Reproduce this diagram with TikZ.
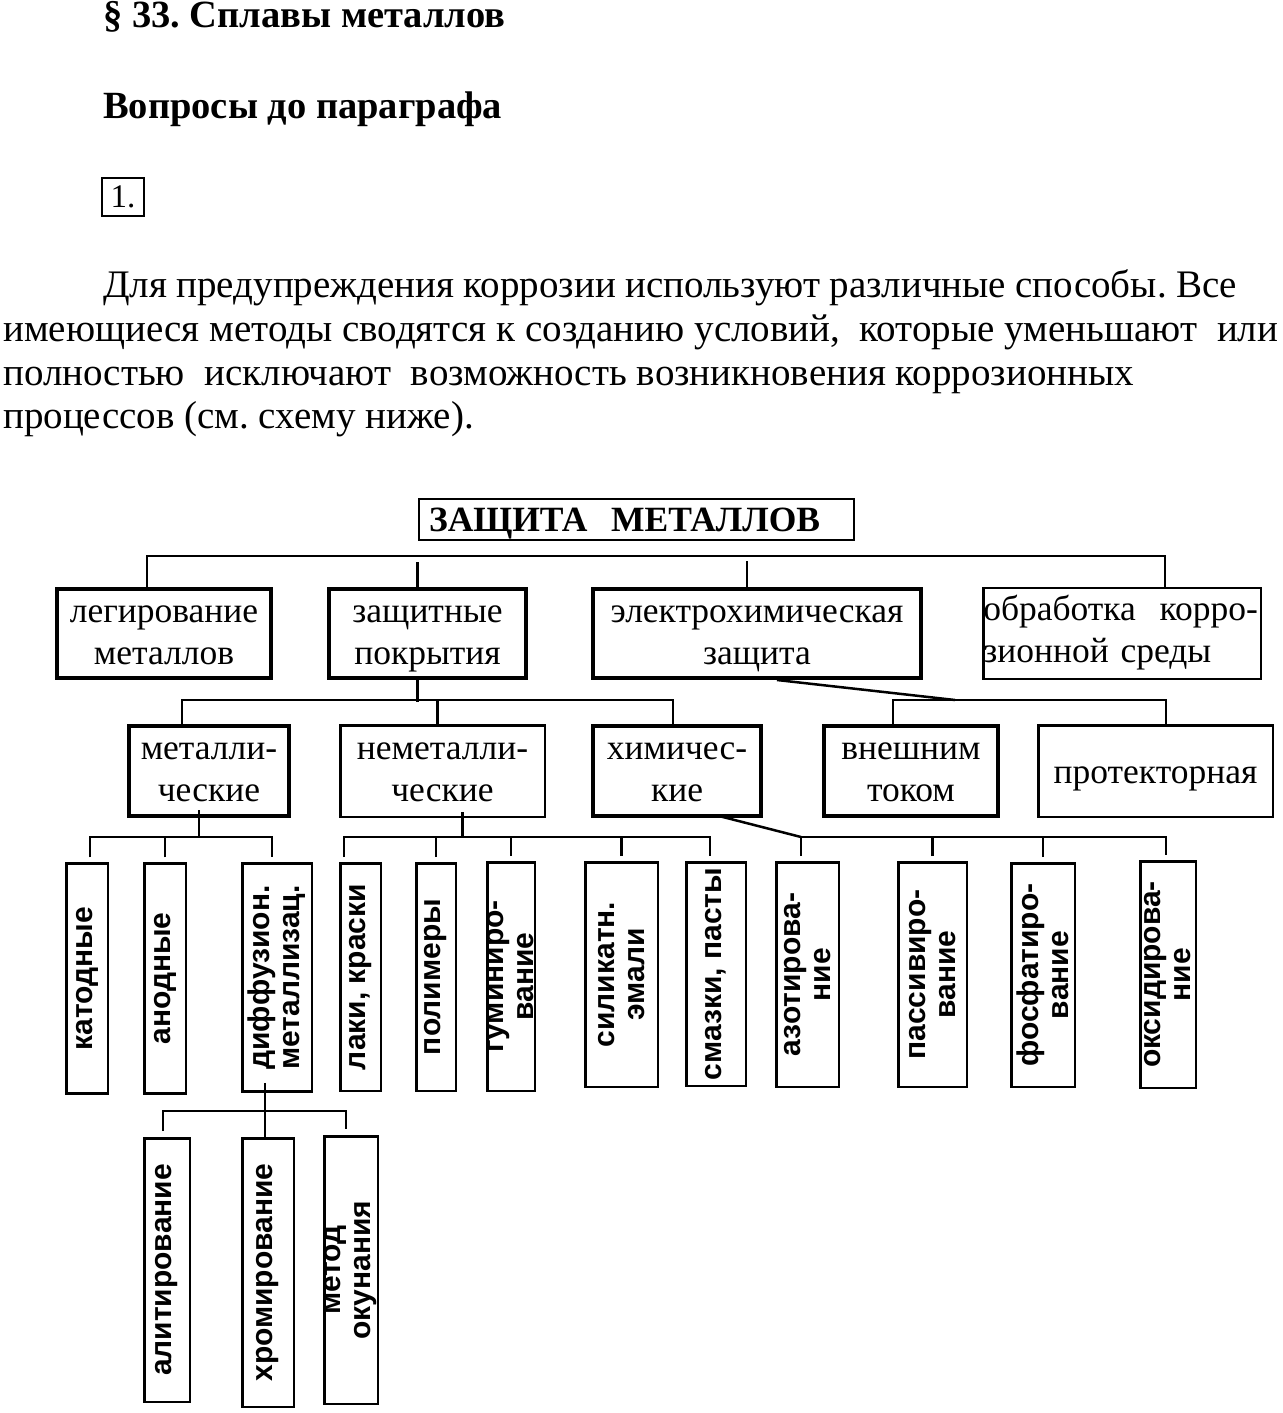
\documentclass[tikz,border=0pt]{standalone}
\usepackage{fontspec}
\setmainfont{Liberation Serif}
\newfontfamily\armfont{Liberation Sans}
\frenchspacing
\newcommand{\headfnt}{\fontsize{38.5}{44}\selectfont\bfseries}
\newcommand{\bodyfnt}{\fontsize{39}{44}\selectfont}
\newcommand{\boxfnt}{\fontsize{35.5}{42}\selectfont}
\newcommand{\vfnt}{\armfont\bfseries\fontsize{30}{30}\selectfont}

\begin{document}
\begin{tikzpicture}[x=1pt,y=-1pt,
    link/.style={line width=2.5pt},
    cell/.style={draw,line width=2.5pt,inner sep=0pt,align=center,font=\boxfnt,
      text height=66pt,text depth=5pt},
    oneline/.style={text height=28pt,text depth=4pt},
    bcell/.style={cell,line width=4pt},
    vcell/.style={draw,line width=2.5pt,inner sep=0pt,align=center,rotate=90,font=\vfnt},
    txt/.style={inner sep=0pt,anchor=base west}]
\useasboundingbox (0,0) rectangle (1282,1413);

% heading and text
\node[txt,font=\headfnt] (sec) at (103,28) {§ 33. Сплавы металлов};
\node[txt,font=\headfnt] (vop) at (103,118) {Вопросы до параграфа};
\node[draw,line width=1.5pt,minimum width=42,minimum height=38,inner sep=0pt,font=\fontsize{33}{33}\selectfont] (num) at (123,197) {1.};
\node[txt,font=\bodyfnt] (l1) at (103,297) {\makebox[1134pt][s]{Для предупреждения коррозии используют различные способы. Все}};
\node[txt,font=\bodyfnt] (l2) at (3,341) {\makebox[1275pt][s]{имеющиеся методы сводятся к созданию условий,\ \ которые уменьшают\ \ или}};
\node[txt,font=\bodyfnt] (l3) at (3,385) {полностью\ \ исключают\ \ возможность возникновения коррозионных};
\node[txt,font=\bodyfnt] (l4) at (3,428) {процессов (см. схему ниже).};

% scheme
\node[cell,oneline,font=\boxfnt\bfseries,text width=415pt,inner xsep=10pt,minimum height=41,align=left] (top) at (636.5,519.5) {ЗАЩИТА~~МЕТАЛЛОВ};

\node[bcell,minimum width=214,minimum height=89] (leg) at (164,633.5) {легирование\\металлов};
\node[bcell,minimum width=197,minimum height=89] (zp) at (427.5,633.5) {защитные\\покрытия};
\node[bcell,minimum width=328,minimum height=89] (eh) at (757,633.5) {электрохимическая\\защита};
\node[cell,text width=277.5pt,align=left,minimum height=91,text height=23pt,text depth=50pt] (obr) at (1122,633.5) {обработка~~корро-\\зионной среды};

\node[bcell,minimum width=160,minimum height=90] (met) at (209,771) {металли-\\ческие};
\node[cell,minimum width=204.5,minimum height=91.5] (nm) at (442.5,771) {неметалли-\\ческие};
\node[bcell,minimum width=168,minimum height=90] (him) at (677,771) {химичес-\\кие};
\node[bcell,minimum width=174,minimum height=90] (vt) at (911,771) {внешним\\током};
\node[cell,oneline,minimum width=234.5,minimum height=91.5] (pr) at (1155.5,771) {протекторная};

\node[vcell,minimum width=230,minimum height=41.5] (kat) at (87,978.5) {катодные};
\node[vcell,minimum width=230,minimum height=41.5] (ano) at (165,978.5) {анодные};
\node[vcell,minimum width=228,minimum height=69.5] (dif) at (277,977.5) {диффузион.\\металлизац.};
\node[vcell,minimum width=227.5,minimum height=40.5] (lak) at (360.5,977) {лаки, краски};
\node[vcell,minimum width=227.5,minimum height=39.5] (pol) at (436,977) {полимеры};
\node[vcell,minimum width=228.5,minimum height=47.5] (gum) at (511,976.5) {гуминиро-\\вание};
\node[vcell,minimum width=224.5,minimum height=72.5] (sil) at (621.5,974.5) {силикатн.\\эмали};
\node[vcell,minimum width=223.5,minimum height=59.5] (sm) at (716,974) {смазки, пасты};
\node[vcell,minimum width=224.5,minimum height=62.5] (azo) at (807.5,974.5) {азотирова-\\ние};
\node[vcell,minimum width=224.5,minimum height=68.5] (pas) at (932.5,974.5) {пассивиро-\\вание};
\node[vcell,minimum width=223.5,minimum height=63.5] (fos) at (1043,975) {фосфатиро-\\вание};
\node[vcell,minimum width=226.5,minimum height=55.5] (oks) at (1168,974.5) {оксидирова-\\ние};

\node[vcell,minimum width=263.5,minimum height=45.5] (ali) at (167,1270) {алитирование};
\node[vcell,minimum width=268.5,minimum height=51.5] (xro) at (268,1272.5) {хромирование};
\node[vcell,minimum width=267.5,minimum height=53.5] (mo) at (351,1270) {метод\\окунания};

% first level
\coordinate (a1) at (147,556);
\coordinate (a2) at (1165,556);
\draw[link] (a1 |- leg.north) -- (a1) -- (a2) -- (a2 |- obr.north);
\draw[link] (zp.north) ++(-10,0) -- ++(0,-25);
\draw[link] (eh.north) ++(-10,0) -- ++(0,-26);

% coatings
\coordinate (b1) at (182,700);
\coordinate (b2) at (673,700);
\draw[link] (zp.south) ++(-10,0) -- ++(0,22);
\draw[link] (b1 |- met.north) -- (b1) -- (b2) -- (b2 |- him.north);
\draw[link] (nm.north) ++(-5,0) -- ++(0,-23);

% electrochemical
\coordinate (c0) at (955,700);
\coordinate (c1) at (893,700);
\coordinate (c2) at (1166,700);
\draw[link] (eh.south) ++(20,0) -- (c0);
\draw[link] (c1 |- vt.north) -- (c1) -- (c2) -- (c2 |- pr.north);

% metallic
\coordinate (d1) at (90,837);
\coordinate (d2) at (272,837);
\draw[link] (met.south) ++(-10,-8) -- ++(0,27);
\draw[link,shorten <=5pt,shorten >=5pt] (d1 |- kat.east) -- (d1) -- (d2) -- (d2 |- dif.east);
\draw[link,shorten <=5pt] (ano.east) -- (ano.east |- d1);

% non-metallic
\coordinate (e1) at (344,837);
\coordinate (e2) at (710,837);
\draw[link] (nm.south) ++(20,-6) -- ++(0,25);
\draw[link,shorten <=5pt,shorten >=5pt] (e1 |- lak.east) -- (e1) -- (e2) -- (e2 |- sm.east);
\draw[link,shorten <=5pt] (pol.east) -- (pol.east |- e1);
\draw[link,shorten <=5pt] (gum.east) -- (gum.east |- e1);
\draw[link,shorten <=5pt] (sil.east) -- (sil.east |- e1);

% chemical
\coordinate (f1) at (801,837);
\coordinate (f2) at (1166,837);
\draw[link] (him.south) ++(42,-2) -- (f1);
\draw[link,shorten <=5pt,shorten >=5pt] (f1 |- azo.east) -- (f1) -- (f2) -- (f2 |- oks.east);
\draw[link,shorten <=5pt] (pas.east) -- (pas.east |- f1);
\draw[link,shorten <=5pt] (fos.east) -- (fos.east |- f1);

% diffusion
\coordinate (g1) at (163,1111);
\coordinate (g2) at (346,1111);
\draw[link] (dif.west) ++(-12,-10) -- ++(0,54);
\draw[link,shorten <=6pt,shorten >=6pt] (g1 |- ali.east) -- (g1) -- (g2) -- (g2 |- mo.east);
\end{tikzpicture}
\end{document}
